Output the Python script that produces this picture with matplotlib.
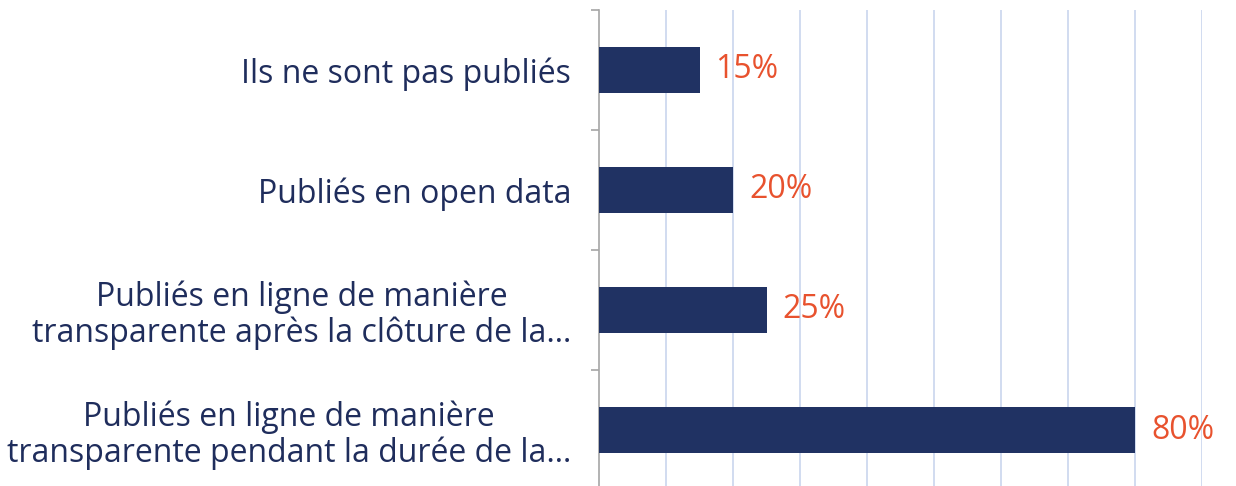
import matplotlib
matplotlib.use("Agg")
import matplotlib.pyplot as plt
import numpy as np

categories = [
    "Ils ne sont pas publiés",
    "Publiés en open data",
    "Publiés en ligne de manière\ntransparente après la clôture de la…",
    "Publiés en ligne de manière\ntransparente pendant la durée de la…",
]
values = [0.15, 0.20, 0.25, 0.80]
value_labels = ["15%", "20%", "25%", "80%"]

plt.rcParams['font.family'] = ['Open Sans', 'DejaVu Sans']

fig = plt.figure(figsize=(12.36, 4.86), dpi=100)
W, H = 1236, 486
x0, x1 = 599, 1202
ytop, ybot = 10, 490
ax = fig.add_axes([x0 / W, (H - ybot) / H, (x1 - x0) / W, (ybot - ytop) / H])

y = np.arange(len(categories))
ax.barh(y, values, height=0.39, color="#203263", zorder=3)
ax.set_ylim(len(categories) - 0.5, -0.5)
ax.set_xlim(0, 0.9)

ax.set_xticks(np.arange(0.1, 0.91, 0.1))
ax.tick_params(axis='x', length=0, labelbottom=False)
ax.grid(axis='x', color="#c9d5ee", linewidth=1.2, zorder=0)

ax.set_yticks(y)
ax.set_yticklabels(categories, fontsize=23, color="#1f2d5c", multialignment='center', linespacing=1.1)
ax.tick_params(axis='y', which='major', length=0, pad=20)
ax.set_yticks(np.arange(-0.5, len(categories), 1.0), minor=True)
ax.tick_params(axis='y', which='minor', length=6, color="#a6a6a6", width=1.2)

for s in ['top', 'right', 'bottom']:
    ax.spines[s].set_visible(False)
ax.spines['left'].set_color("#a6a6a6")
ax.spines['left'].set_linewidth(1.2)

for yi, v, lab in zip(y, values, value_labels):
    ax.annotate(lab, (v, yi), xytext=(16, 0), textcoords='offset pixels',
                va='center', ha='left', fontsize=23, color="#e8522e")

fig.savefig("out.png", dpi=100)
